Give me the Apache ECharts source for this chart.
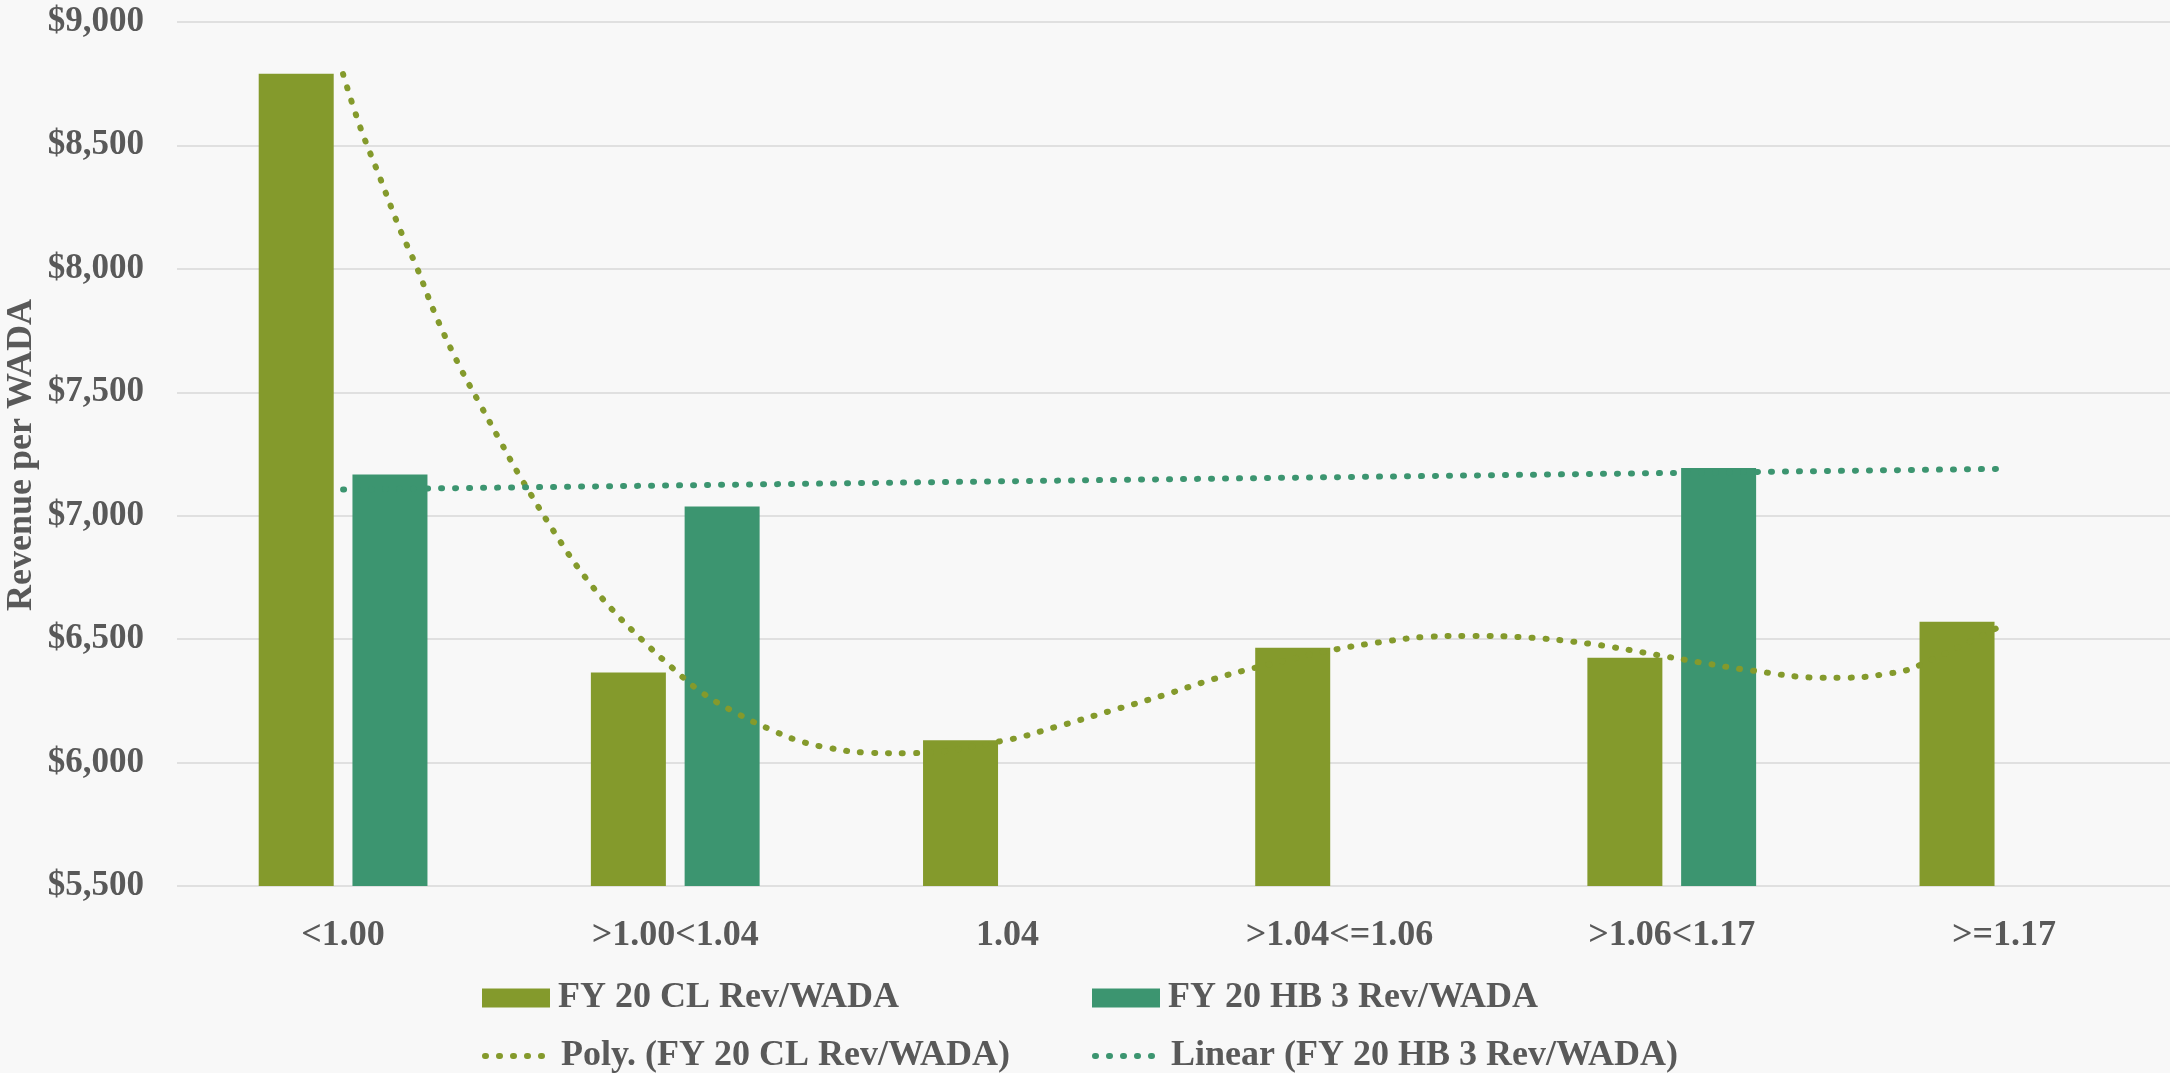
<!DOCTYPE html>
<html>
<head>
<meta charset="utf-8">
<script src="https://cdn.jsdelivr.net/npm/echarts@6/dist/echarts.min.js"></script>
<style>
html,body{margin:0;padding:0;background:#f8f8f8;}
#chart{width:2170px;height:1073px;}
</style>
</head>
<body>
<div id="chart"></div>
<script>
const categories = ['<1.00', '>1.00<1.04', '1.04', '>1.04<=1.06', '>1.06<1.17', '>=1.17'];
const clValues = [8790, 6365, 6090, 6465, 6425, 6570];
const hbValues = [7167, 7037, null, null, 7193, null];
// Trendline readings: [position in category units, value]
const polyTrend = [
  [0.5, 8789], [0.55, 8580], [0.61, 8373], [0.67, 8164], [0.72, 8012], [0.78, 7808],
  [0.85, 7607], [0.91, 7457], [0.97, 7310], [1.03, 7165], [1.16, 6883], [1.23, 6749],
  [1.31, 6620], [1.40, 6497], [1.49, 6385], [1.58, 6284], [1.69, 6196], [1.80, 6126],
  [1.87, 6089], [1.96, 6060], [2.08, 6040], [2.20, 6038], [2.49, 6089], [2.65, 6146],
  [2.81, 6209], [2.97, 6273], [3.12, 6338], [3.24, 6382], [3.48, 6456], [3.64, 6491],
  [3.76, 6509], [3.89, 6513], [4.05, 6508], [4.26, 6480], [4.46, 6435], [4.58, 6407],
  [4.74, 6373], [4.95, 6344], [5.03, 6344], [5.15, 6360], [5.23, 6385], [5.5, 6560]
];
const linearTrend = [[0.5, 7106], [5.5, 7190]];
const yTicks = {min: 5500, max: 9000, step: 500};
const yTitle = 'Revenue per WADA';
const seriesNames = ['FY 20 CL Rev/WADA', 'FY 20 HB 3 Rev/WADA', 'Poly. (FY 20 CL Rev/WADA)', 'Linear (FY 20 HB 3 Rev/WADA)'];

const GREEN = '#849a2c';
const TEAL = '#3c9570';
const TXT = '#595959';
const FONT = "'Liberation Serif', 'DejaVu Serif', serif";

const chart = echarts.init(document.getElementById('chart'), null, {renderer: 'canvas'});

const dotLine = (c) => ({color: c, width: 6, type: [1, 13], cap: 'round'});

function legendAt(name, left, top, lineColor) {
  const l = {
    data: [name], left: left, top: top, orient: 'horizontal',
    itemWidth: 68, itemHeight: 19, padding: 0,
    textStyle: {color: TXT, fontFamily: FONT, fontWeight: 'bold', fontSize: 36, padding: [0, 0, 0, 3]},
    selectedMode: false
  };
  if (lineColor) {
    l.itemStyle = {opacity: 0};
    l.lineStyle = dotLine(lineColor);
  } else {
    l.icon = 'rect';
  }
  return l;
}

chart.setOption({
  backgroundColor: '#f8f8f8',
  animation: false,
  grid: {left: 177, right: 0, top: 22, bottom: 187, containLabel: false},
  legend: [
    legendAt(seriesNames[0], 482, 980),
    legendAt(seriesNames[1], 1092, 980),
    legendAt(seriesNames[2], 482, 1038, GREEN),
    legendAt(seriesNames[3], 1092, 1038, TEAL)
  ],
  graphic: [{
    type: 'text', x: 22, y: 455, rotation: Math.PI / 2,
    style: {text: yTitle, fill: TXT, font: 'bold 36px ' + FONT, align: 'center', verticalAlign: 'middle'}
  }],
  xAxis: [{
    type: 'category', data: categories,
    axisLine: {show: false}, axisTick: {show: false},
    axisLabel: {color: TXT, fontFamily: FONT, fontWeight: 'bold', fontSize: 36, margin: 32}
  }, {
    type: 'value', min: 0, max: 6, show: false
  }],
  yAxis: {
    type: 'value', min: yTicks.min, max: yTicks.max, interval: yTicks.step,
    axisLine: {show: false}, axisTick: {show: false},
    splitLine: {lineStyle: {color: '#d9d9d9', width: 1.5}},
    axisLabel: {
      color: TXT, fontFamily: FONT, fontWeight: 'bold', fontSize: 35, margin: 33,
      formatter: v => '$' + v.toLocaleString('en-US')
    }
  },
  series: [{
    name: seriesNames[0], type: 'bar', data: clValues, barWidth: 75, barGap: '25%',
    itemStyle: {color: GREEN}
  }, {
    name: seriesNames[1], type: 'bar', data: hbValues, barWidth: 75, barGap: '25%',
    itemStyle: {color: TEAL}
  }, {
    name: seriesNames[2], type: 'line', xAxisIndex: 1, data: polyTrend, smooth: 0.4,
    symbol: 'none', lineStyle: dotLine(GREEN), itemStyle: {color: GREEN}, z: 5
  }, {
    name: seriesNames[3], type: 'line', xAxisIndex: 1, data: linearTrend,
    symbol: 'none', lineStyle: dotLine(TEAL), itemStyle: {color: TEAL}, z: 5
  }]
});
</script>
</body>
</html>
